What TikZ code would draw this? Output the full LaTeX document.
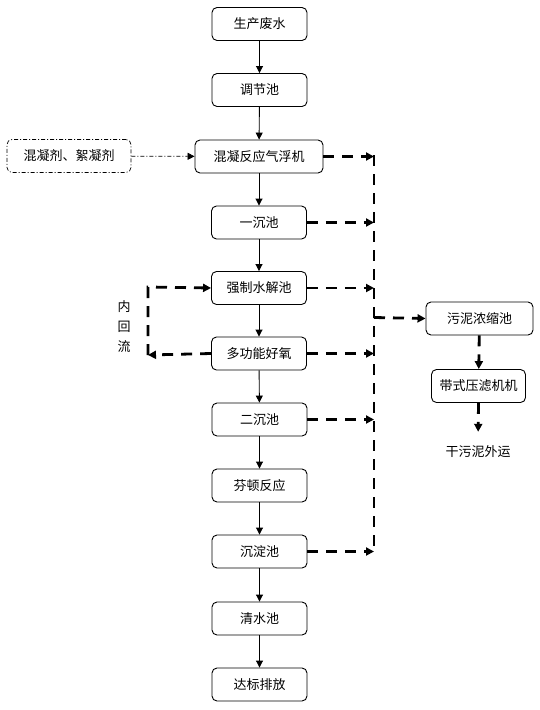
\documentclass[tikz,border=0pt]{standalone}
\usepackage{fontspec}
\setmainfont{Noto Sans CJK SC}
\usetikzlibrary{arrows.meta}
\begin{document}
\begin{tikzpicture}[x=1pt,y=-1pt,
  box/.style={draw,rounded corners=5pt,line width=0.9pt,minimum width=95pt,minimum height=33pt,inner sep=0pt,font=\fontsize{13pt}{15pt}\selectfont},
  flow/.style={-{Triangle[length=7pt,width=7pt]},line width=0.9pt},
  sludge/.style={-{Triangle[length=8pt,width=8pt]},line width=2.8pt,dash pattern=on 11pt off 8pt},
  dosing/.style={-{Triangle[length=7pt,width=7pt]},line width=0.7pt,dash pattern=on 4pt off 2pt on 1pt off 2pt},
  lbl/.style={font=\fontsize{13pt}{15pt}\selectfont,inner sep=0pt}]
\useasboundingbox (0,0) rectangle (540,710);
\node[box] (a) at (259.5,24) {生产废水};
\node[box] (b) at (259.5,90) {调节池};
\node[box,minimum width=128pt] (c) at (259,156.5) {混凝反应气浮机};
\node[box] (d) at (259,222.5) {一沉池};
\node[box] (e) at (259,288) {强制水解池};
\node[box] (f) at (259,353.5) {多功能好氧};
\node[box] (g) at (259.5,419.5) {二沉池};
\node[box] (h) at (259.5,485.5) {芬顿反应};
\node[box] (i) at (259.5,551.5) {沉淀池};
\node[box] (j) at (259.5,618.5) {清水池};
\node[box] (k) at (259.5,684.5) {达标排放};
\node[box,minimum width=124pt,dash pattern=on 4pt off 2pt on 1pt off 2pt,line width=0.7pt] (s) at (69,156) {混凝剂、絮凝剂};
\node[box,minimum width=107pt] (p) at (479.5,318.5) {污泥浓缩池};
\node[box,minimum width=94pt] (q) at (478.5,386) {带式压滤机机};
\node[lbl] (r) at (478,452) {干污泥外运};
\node[lbl,align=center,font=\fontsize{13pt}{20pt}\selectfont] (n) at (124,327) {内\\回\\流};
\foreach \u/\v in {a/b,b/c,c/d,d/e,e/f,f/g,g/h,h/i,i/j,j/k}
  \draw[flow] (\u) -- (\v);
\draw[dosing] (s) -- (c);
% sludge collection line
\coordinate (top) at (374,155);
\coordinate (bot) at (374,553);
\coordinate (br) at (374,317.5);
\draw[line width=2.8pt,dash pattern=on 11pt off 8pt] (top) -- (bot);
\foreach \u in {c,d,e,f,g,i}
  \draw[sludge] (\u.east) -- (\u.east -| top);
\draw[sludge] (br) -- (p.west);
\draw[sludge] (p) -- (q);
\draw[sludge,shorten >=14pt] (q.south) -- (r.north);
% internal recycle
\coordinate (lt) at (148,287);
\coordinate (lb) at (148,355);
\draw[sludge] (f.west) -- (lb);
\draw[sludge] (lb) -- (lt) -- (e.west);
\end{tikzpicture}
\end{document}
